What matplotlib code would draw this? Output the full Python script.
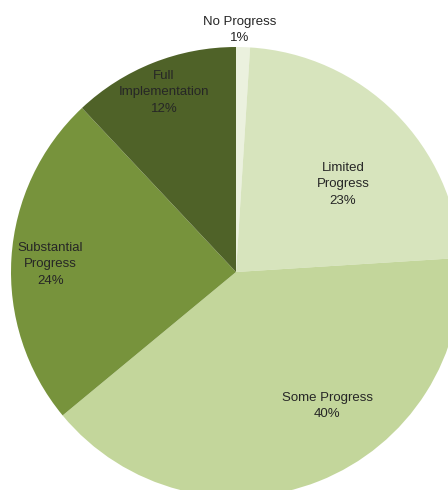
import numpy as np
import matplotlib.pyplot as plt

plt.rcParams['font.family'] = ['Liberation Sans', 'DejaVu Sans']

labels = ['No Progress', 'Limited\nProgress', 'Some Progress', 'Substantial\nProgress', 'Full\nImplementation']
values = [1, 23, 40, 24, 12]
colors = ['#EBF1DE', '#D7E4BD', '#C3D69B', '#77933C', '#4F6228']

# label spots, radius units from pie centre
label_pos = [(0.015, 1.075), (0.475, 0.39), (0.405, -0.595), (-0.825, 0.035), (-0.32, 0.80)]

fig = plt.figure(figsize=(4.48, 4.90), dpi=100)
ax = fig.add_axes([0, 0, 1, 1])

R = 225.0
cx, cy = 236.0, 272.0
ax.pie(values, colors=colors, startangle=90, counterclock=False, radius=1,
       wedgeprops=dict(linewidth=0))
ax.set_aspect('auto')
ax.set_xlim(-cx / R, (448 - cx) / R)
ax.set_ylim(-(490 - cy) / R, cy / R)
ax.axis('off')

for lab, v, (x, y) in zip(labels, values, label_pos):
    ax.text(x, y, f'{lab}\n{v}%', ha='center', va='center', fontsize=9.5,
            color='#262626', linespacing=1.5)

fig.savefig('out.png', dpi=100)
